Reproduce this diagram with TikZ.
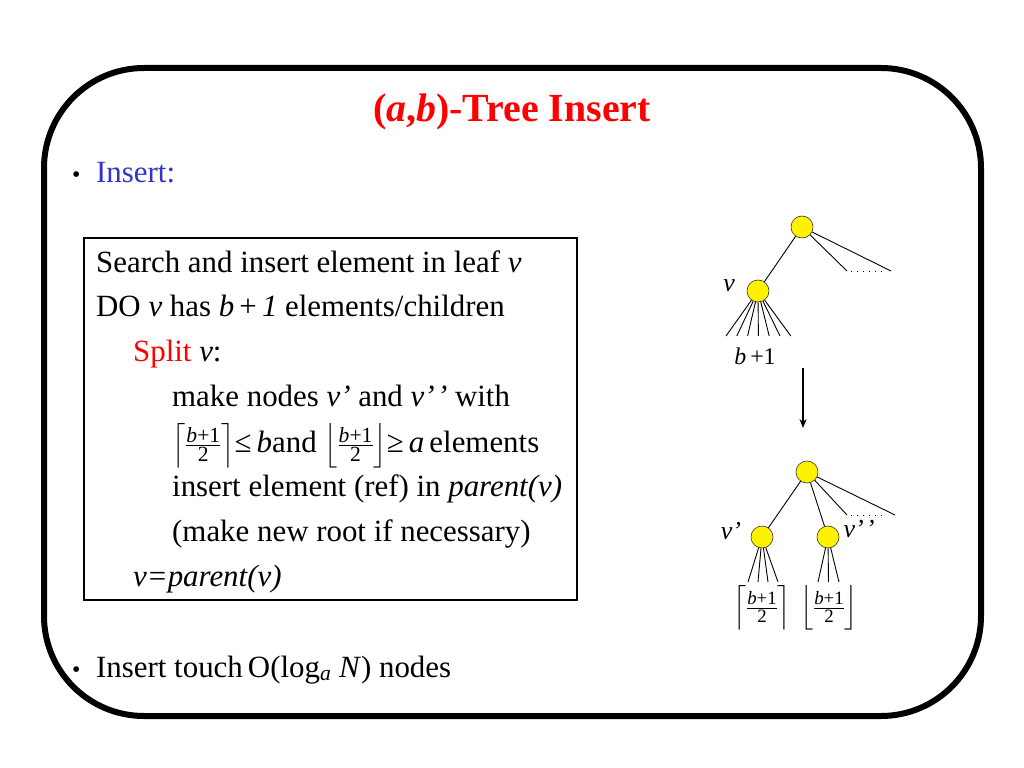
\documentclass[tikz,border=0pt]{standalone}
\usepackage{amsmath}
\usepackage{fontspec}
\setmainfont{Liberation Serif}
\usetikzlibrary{arrows.meta}
\definecolor{titlered}{RGB}{255,0,0}
\definecolor{itemblue}{RGB}{51,51,204}
\newcommand{\ceilfrac}{$\left\lceil\frac{\text{\itshape b\upshape+1}}{\text{2}}\right\rceil$}
\newcommand{\floorfrac}{$\left\lfloor\frac{\text{\itshape b\upshape+1}}{\text{2}}\right\rfloor$}
\newcommand{\twoprime}{\textquoteright\kern0.08em\textquoteright}
\begin{document}
\begin{tikzpicture}[x=1bp,y=-1bp,
  txt/.style={anchor=base west,inner sep=0pt,font=\fontsize{31}{36}\selectfont},
  ball/.style={circle,draw=black!80,fill=yellow,line width=0.6bp,minimum size=22bp,inner sep=0pt},
  edge/.style={line width=0.9bp},
  dots/.style={line width=0.9bp,dash pattern=on 1bp off 5bp},
  lbl/.style={inner sep=0pt,font=\fontsize{26}{30}\selectfont\itshape}]
\useasboundingbox (0,0) rectangle (1024,768);
\draw[line width=6bp,rounded corners=100bp] (44,68) rectangle (981,716);
\node (title) at (512,112) {\fontsize{40}{46}\selectfont\bfseries\color{titlered}(\textit{a},\textit{b})-Tree Insert};
\node[txt] (b1) at (72,182) {\fontsize{24}{28}\selectfont•};
\node[txt,text=itemblue] (ins) at (96,182) {Insert:};
\draw[line width=1.5bp] (84,238) rectangle (577,600);
\node[txt] (l1) at (96,272) {Search and insert element in leaf \textit{v}};
\node[txt] (l2) at (96,316) {DO \textit{v} has \textit{b}\,+\,\textit{1} elements/children};
\node[txt] (l3) at (133,361) {\textcolor{titlered}{Split} \textit{v}:};
\node[txt] (l4) at (172,406) {make nodes \textit{v\textquoteright} and \textit{v\twoprime} with};
\node[txt] (l5) at (172,452) {\ceilfrac≤\,\textit{b}and \floorfrac≥\,\textit{a}\,elements};
\node[txt] (l6) at (172,496) {insert element (ref) in \textit{parent(v)}};
\node[txt] (l7) at (172,541) {(make new root if necessary)};
\node[txt] (l8) at (133,586) {\textit{v=parent(v)}};
\node[txt] (b2) at (72,677) {\fontsize{24}{28}\selectfont•};
\node[txt] (l9) at (96,677) {Insert touch\,O(log$_{\text{\itshape a}}$ \textit{N}) nodes};
\node[ball] (r1) at (802,227) {};
\node[ball] (v) at (758,291) {};
\coordinate (e1) at (847,271);
\coordinate (e2) at (891,271);
\draw[edge] (r1) -- (v);
\draw[edge] (r1) -- (e1);
\draw[edge] (r1) -- (e2);
\draw[dots,shorten <=4bp,shorten >=9bp] (e1) -- (e2);
\foreach \i in {0,...,6} {
  \coordinate (c\i) at (726+\i*10.8,336);
  \draw[edge] (v) -- (c\i);
}
\node[lbl] (vl) at (729,286) {v};
\node[inner sep=0pt,font=\fontsize{24}{28}\selectfont] (bl) at (755,356) {\textit{b}\,+1};
\coordinate (a1) at (803,368);
\coordinate (a2) at (803,428);
\draw[line width=1.2bp,-{Stealth[length=9bp,width=7bp]}] (a1) -- (a2);
\node[ball] (r2) at (807,472) {};
\node[ball] (va) at (762,537) {};
\node[ball] (vb) at (828,537) {};
\coordinate (e3) at (847,515);
\coordinate (e4) at (895,515);
\draw[edge] (r2) -- (va);
\draw[edge] (r2) -- (vb);
\draw[edge] (r2) -- (e3);
\draw[edge] (r2) -- (e4);
\draw[dots,shorten <=4bp,shorten >=11bp] (e3) -- (e4);
\foreach \i in {0,...,3} {
  \coordinate (d\i) at (748+\i*10,582);
  \draw[edge] (va) -- (d\i);
}
\foreach \i in {0,...,2} {
  \coordinate (f\i) at (818+\i*10.5,582);
  \draw[edge] (vb) -- (f\i);
}
\node[lbl] (val) at (731,531) {v\textquoteright};
\node[lbl] (vbl) at (859,529) {v\twoprime};
\node[inner sep=0pt,font=\fontsize{27}{30}\selectfont] (cl) at (762,608) {\ceilfrac};
\node[inner sep=0pt,font=\fontsize{27}{30}\selectfont] (fl) at (829,608) {\floorfrac};
\end{tikzpicture}
\end{document}
